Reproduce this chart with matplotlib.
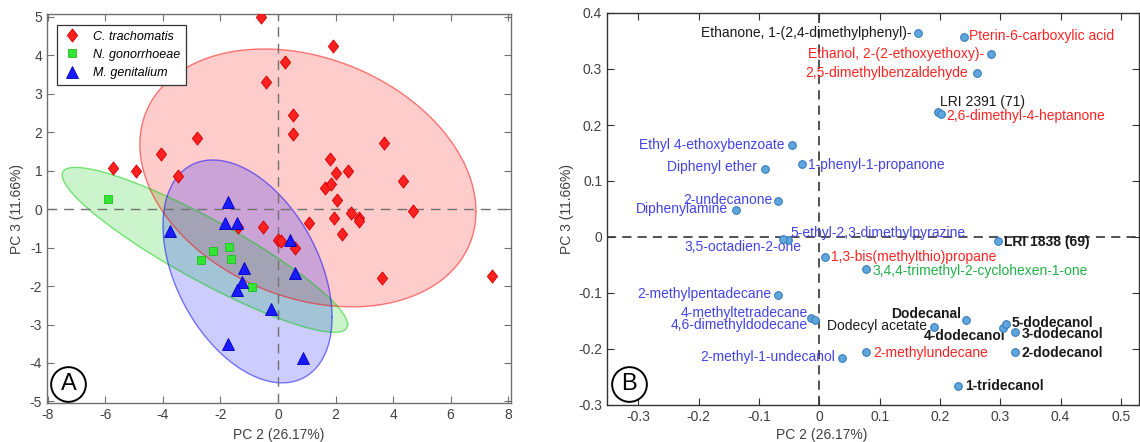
import numpy as np
import matplotlib
matplotlib.use('Agg')
import matplotlib.pyplot as plt

plt.rcParams['font.family'] = ['Liberation Sans', 'DejaVu Sans']
plt.rcParams['axes.unicode_minus'] = False

# ---- panel A: PCA scores ----
ct_pc2 = [-0.59, -0.42, -5.75, -4.92, -4.05, -3.49, -2.83, -1.38, -0.51, 0.01,
          1.90, 0.25, 0.51, 0.51, 3.69, 1.81, 2.02, 2.45, 1.63, 1.84,
          4.36, 2.04, 4.68, 1.95, 2.53, 2.80, 2.83, 1.08, 2.24, 0.10,
          0.59, 3.62, 7.44]
ct_pc3 = [4.98, 3.31, 1.06, 1.00, 1.43, 0.86, 1.84, -0.46, -0.46, -0.80,
          4.24, 3.83, 2.44, 1.94, 1.73, 1.29, 0.94, 1.00, 0.56, 0.65,
          0.74, 0.23, -0.05, -0.22, -0.11, -0.22, -0.31, -0.37, -0.65, -0.82,
          -1.02, -1.80, -1.74]
ng_pc2 = [-5.90, -1.70, -2.27, -2.69, -1.65, -0.89]
ng_pc3 = [0.26, -0.98, -1.09, -1.32, -1.31, -2.03]
mg_pc2 = [-1.74, -1.84, -1.44, -3.76, -1.18, -1.24, -1.44, -0.25, -1.74, 0.42, 0.59, 0.88]
mg_pc3 = [0.19, -0.37, -0.37, -0.57, -1.52, -1.90, -2.10, -2.60, -3.51, -0.81, -1.67, -3.86]

groups = ['C. trachomatis', 'N. gonorrhoeae', 'M. genitalium']
# confidence ellipses: centre x, centre y, sxx, syy, sxy
ct_ell = [1.04, 0.81, 34.15, 11.23, -5.1]
ng_ell = [-2.54, -1.06, 24.62, 4.60, -9.64]
mg_ell = [-1.06, -1.62, 8.64, 8.39, -3.50]

# ---- panel B: loadings ----
names = ['Ethanone, 1-(2,4-dimethylphenyl)-', 'Pterin-6-carboxylic acid',
         'Ethanol, 2-(2-ethoxyethoxy)-', '2,5-dimethylbenzaldehyde',
         'LRI 2391 (71)', '2,6-dimethyl-4-heptanone', 'Ethyl 4-ethoxybenzoate',
         'Diphenyl ether', '1-phenyl-1-propanone', '2-undecanone', 'Diphenylamine',
         '5-ethyl-2,3-dimethylpyrazine', '3,5-octadien-2-one',
         '1,3-bis(methylthio)propane', '3,4,4-trimethyl-2-cyclohexen-1-one',
         'LRI 1838 (69)', '2-methylpentadecane', '4-methyltetradecane',
         '4,6-dimethyldodecane', '2-methyl-1-undecanol', '2-methylundecane',
         'Dodecanal', 'Dodecyl acetate', '4-dodecanol', '5-dodecanol',
         '3-dodecanol', '2-dodecanol', '1-tridecanol']
load_pc2 = [0.164, 0.240, 0.284, 0.262, 0.196, 0.201, -0.045, -0.090, -0.028, -0.068,
            -0.138, -0.052, -0.060, 0.009, 0.077, 0.296, -0.068, -0.013, -0.007,
            0.037, 0.077, 0.243, 0.190, 0.304, 0.309, 0.325, 0.325, 0.230]
load_pc3 = [0.364, 0.357, 0.327, 0.292, 0.224, 0.220, 0.164, 0.122, 0.131, 0.065,
            0.048, -0.006, -0.004, -0.035, -0.057, -0.008, -0.103, -0.144, -0.149,
            -0.216, -0.205, -0.148, -0.161, -0.163, -0.155, -0.170, -0.206, -0.266]

xticks_B = ['-0.3', '-0.2', '-0.1', '0', '0.1', '0.2', '0.3', '0.4', '0.5']
yticks_B = ['-0.3', '-0.2', '-0.1', '0', '0.1', '0.2', '0.3', '0.4']

# label styling: colour, bold, ha, dx, dy (pixels)
BLU, RED, GRN, BLK = '#4343e6', '#ff2424', '#22b04a', '#1a1a1a'
label_style = [
    (BLK, False, 'right', -7, 0), (RED, False, 'left', 5, 1),
    (RED, False, 'right', -6, 0), (RED, False, 'right', -9, 0),
    (BLK, False, 'left', 2, 10), (RED, False, 'left', 6, -2),
    (BLU, False, 'right', -8, 0), (BLU, False, 'right', -8, 2),
    (BLU, False, 'left', 6, -1), (BLU, False, 'right', -6, 1),
    (BLU, False, 'right', -8, 1), (BLU, False, 'left', 2, 7),
    (BLU, False, 'right', 18, -8), (RED, False, 'left', 6, 0),
    (GRN, False, 'left', 7, -2), (BLK, True, 'left', 6, -1),
    (BLU, False, 'right', -7, 1), (BLU, False, 'right', -4, 5),
    (BLU, False, 'right', -7, -5), (BLU, False, 'right', -7, 1),
    (RED, False, 'left', 7, -1), (BLK, True, 'right', -5, 6),
    (BLK, False, 'right', -7, 1), (BLK, True, 'right', 3, -8),
    (BLK, True, 'left', 6, 1), (BLK, True, 'left', 6, -2),
    (BLK, True, 'left', 6, -1), (BLK, True, 'left', 7, 0),
]


def draw_ellipse(ax, ell, color):
    cx, cy, sxx, syy, sxy = ell
    L = np.linalg.cholesky(np.array([[sxx, sxy], [sxy, syy]]))
    t = np.linspace(0, 2 * np.pi, 300)
    p = L @ np.vstack([np.cos(t), np.sin(t)])
    ax.fill(cx + p[0], cy + p[1], color=color, alpha=0.2, lw=0, zorder=1)
    ax.plot(cx + p[0], cy + p[1], color=color, alpha=0.5, lw=1, zorder=1.5)


def style_axes(ax, spine_col):
    ax.tick_params(direction='in', top=True, right=True, length=5, width=0.8,
                   labelsize=10, colors=spine_col)
    ax.tick_params(labelcolor='#404040')
    for s in ax.spines.values():
        s.set_color(spine_col)
        s.set_linewidth(1)


fig = plt.figure(figsize=(11.4, 4.42), dpi=100)

# ---------------- A ----------------
axA = fig.add_axes([47 / 1140, 39 / 442, 464 / 1140, 389 / 442])
draw_ellipse(axA, ct_ell, '#ff0000')
draw_ellipse(axA, ng_ell, '#00cc00')
draw_ellipse(axA, mg_ell, '#0000ff')
axA.axhline(0, color='#707070', ls=(0, (7, 5)), lw=1, zorder=2)
axA.axvline(0, color='#707070', ls=(0, (7, 5)), lw=1, zorder=2)
diamond = [(0, 1), (0.78, 0), (0, -1), (-0.78, 0), (0, 1)]
axA.plot(ct_pc2, ct_pc3, ls='none', marker=diamond, ms=9.5, mfc='#ff2020',
         mec='#d00000', mew=0.6, label=groups[0], zorder=3)
axA.plot(ng_pc2, ng_pc3, ls='none', marker='s', ms=5.5, mfc='#33e633',
         mec='#22bb22', mew=0.6, label=groups[1], zorder=3)
axA.plot(mg_pc2, mg_pc3, ls='none', marker='^', ms=8.5, mfc='#1a1aff',
         mec='#0000bb', mew=0.6, label=groups[2], zorder=3)
axA.set_xlim(-8.03, 8.1)
axA.set_ylim(-5.04, 5.07)
axA.set_xticks(np.arange(-8, 9, 2))
axA.set_yticks(np.arange(-5, 6, 1))
style_axes(axA, '#707070')
axA.set_xlabel('PC 2 (26.17%)', fontsize=10, color='#404040', va='center')
axA.xaxis.set_label_coords(0.5, -0.082)
axA.set_ylabel('PC 3 (11.66%)', fontsize=10, color='#404040', va='center')
axA.yaxis.set_label_coords(-0.064, 0.5)
leg = axA.legend(loc='upper left', bbox_to_anchor=(0.0216, 0.972), borderaxespad=0,
                 prop={'style': 'italic', 'size': 9}, fancybox=False,
                 edgecolor='#333333', framealpha=1, handletextpad=0.9,
                 labelspacing=0.5, borderpad=0.45, handlelength=1.5)
leg.get_frame().set_linewidth(0.9)
axA.plot([0.046], [0.050], 'o', ms=25, mfc='none', mec='black', mew=1.4,
         transform=axA.transAxes, clip_on=False, zorder=4)
axA.text(0.046, 0.050, 'A', transform=axA.transAxes, fontsize=17,
         ha='center', va='center', zorder=4)

# ---------------- B ----------------
axB = fig.add_axes([607 / 1140, 37 / 442, 532 / 1140, 392 / 442])
axB.axhline(0, color='#222222', ls=(0, (6, 4)), lw=1.1, zorder=1)
axB.axvline(0, color='#222222', ls=(0, (6, 4)), lw=1.1, zorder=1)
axB.plot(load_pc2, load_pc3, ls='none', marker='o', ms=5.5, mfc='#5ea6dc',
         mec='#3a7dbf', mew=0.8, zorder=3)
for nm, x, y, st in zip(names, load_pc2, load_pc3, label_style):
    col, bold, ha, dx, dy = st
    axB.annotate(nm, (x, y), xytext=(dx, dy), textcoords='offset pixels',
                 ha=ha, va='center', fontsize=10, color=col,
                 fontweight='bold' if bold else 'normal', zorder=2)
axB.set_xlim(-0.352, 0.53)
axB.set_ylim(-0.3, 0.4)
axB.set_xticks(np.arange(-0.3, 0.51, 0.1))
axB.set_yticks(np.arange(-0.3, 0.41, 0.1))
axB.set_xticklabels(xticks_B)
axB.set_yticklabels(yticks_B)
style_axes(axB, '#333333')
axB.set_xlabel('PC 2 (26.17%)', fontsize=10, color='#404040', va='center')
axB.xaxis.set_label_coords(0.404, -0.077)
axB.set_ylabel('PC 3 (11.66%)', fontsize=10, color='#404040', va='center')
axB.yaxis.set_label_coords(-0.075, 0.5)
axB.plot([0.0414], [0.0536], 'o', ms=25, mfc='none', mec='black', mew=1.4,
         transform=axB.transAxes, clip_on=False, zorder=4)
axB.text(0.0414, 0.0536, 'B', transform=axB.transAxes, fontsize=17,
         ha='center', va='center', zorder=4)

fig.savefig('out.png', dpi=100)
